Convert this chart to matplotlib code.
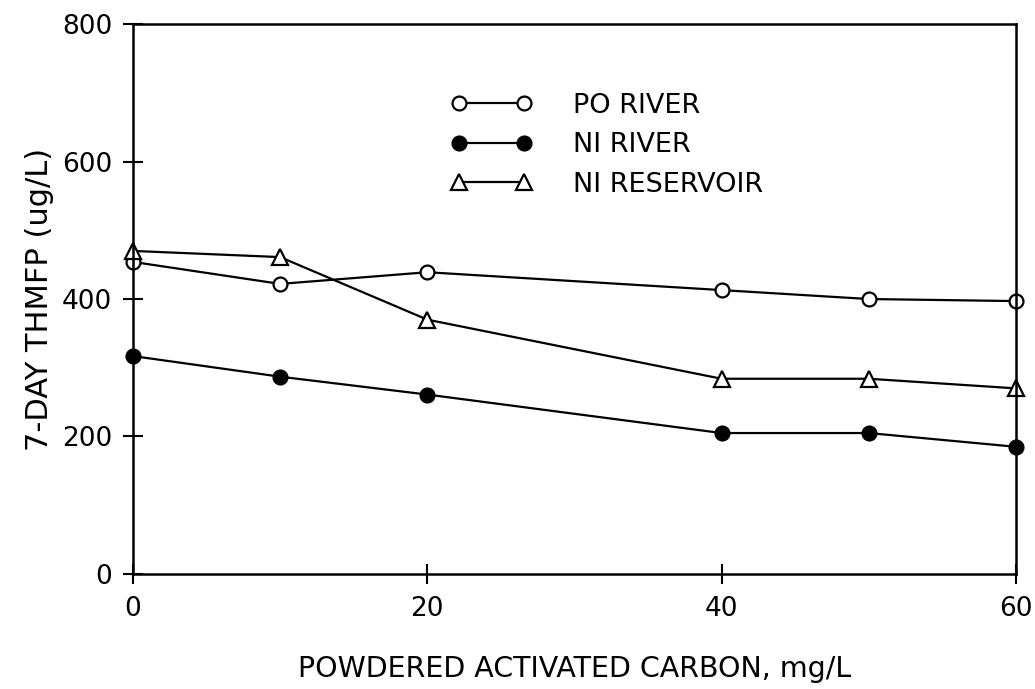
import matplotlib
matplotlib.use("Agg")
import matplotlib.pyplot as plt

# PAC dose, mg/L
pac_dose = [0, 10, 20, 40, 50, 60]

# 7-day THMFP, ug/L
po_river = [454, 422, 439, 413, 400, 397]
ni_river = [317, 287, 261, 205, 205, 185]
ni_reservoir = [470, 461, 370, 284, 284, 270]

y_ticks = [0, 200, 400, 600, 800]
x_ticks = [0, 20, 40, 60]

plt.rcParams["font.family"] = ["DejaVu Sans"]

fig = plt.figure(figsize=(10.35, 6.89), dpi=100)
ax = fig.add_axes([0.1285, 0.167, 0.853, 0.798])

ax.plot(pac_dose, po_river, color="black", lw=1.6, marker="o", ms=10,
        mfc="white", mec="black", mew=1.6, label="PO RIVER", clip_on=False)
ax.plot(pac_dose, ni_river, color="black", lw=1.6, marker="o", ms=10,
        mfc="black", mec="black", mew=1.6, label="NI RIVER", clip_on=False)
ax.plot(pac_dose, ni_reservoir, color="black", lw=1.6, marker="^", ms=11,
        mfc="white", mec="black", mew=1.6, label="NI RESERVOIR", clip_on=False)

ax.set_xlim(0, 60)
ax.set_ylim(0, 800)
ax.set_xticks(x_ticks)
ax.set_yticks(y_ticks)
ax.tick_params(direction="inout", length=14, width=1.5, labelsize=19)
ax.tick_params(axis="x", pad=9)
ax.tick_params(axis="y", pad=8)
for spine in ax.spines.values():
    spine.set_linewidth(1.8)

ax.set_xlabel("POWDERED ACTIVATED CARBON, mg/L", fontsize=20.5, labelpad=24)
ax.set_ylabel("7-DAY THMFP (ug/L)", fontsize=22, labelpad=6)

ax.legend(loc="upper left", bbox_to_anchor=(0.36, 0.875), frameon=False,
          numpoints=2, handlelength=3.0, fontsize=19.5, labelspacing=0.5,
          handletextpad=1.5, borderpad=0, borderaxespad=0)

fig.savefig("out.png", dpi=100)
